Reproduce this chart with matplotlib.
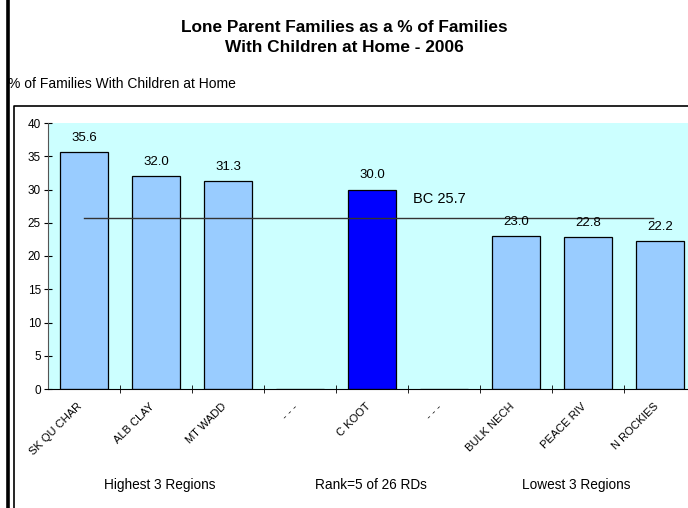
import numpy as np
import matplotlib.pyplot as plt
import matplotlib.transforms as mtransforms
from matplotlib.lines import Line2D

plt.rcParams['font.family'] = ['Liberation Sans', 'DejaVu Sans']

# data
regions = ["SK QU CHAR", "ALB CLAY", "MT WADD", "- - -", "C KOOT", "- - -",
           "BULK NECH", "PEACE RIV", "N ROCKIES"]
values = [35.6, 32.0, 31.3, np.nan, 30.0, np.nan, 23.0, 22.8, 22.2]
highlight = "C KOOT"
bc_value = 25.7
group_labels = ["Highest 3 Regions", "Rank=5 of 26 RDs", "Lowest 3 Regions"]

W, H = 688, 508
fig = plt.figure(figsize=(W / 100, H / 100), dpi=100)

# frame lines (thick outer left, thin inner box)
fig.add_artist(Line2D([7.5 / W, 7.5 / W], [0, 1], color="black", lw=2.6))
fig.add_artist(Line2D([14 / W, 14 / W, 1], [0, 1 - 106 / H, 1 - 106 / H],
                      color="black", lw=1.2))

fig.text(0.5, 1 - 27 / H, "Lone Parent Families as a % of Families",
         ha="center", va="center", fontsize=12.4, fontweight="bold")
fig.text(0.5, 1 - 48 / H, "With Children at Home - 2006",
         ha="center", va="center", fontsize=12.4, fontweight="bold")
fig.text(8 / W, 1 - 84 / H, "% of Families With Children at Home",
         ha="left", va="center", fontsize=10)

ax = fig.add_axes([48 / W, (H - 389) / H, 648 / W, 266 / H])
ax.set_facecolor("#CCFFFF")

x = np.arange(len(regions))
colors = ["#0000FF" if r == highlight else "#99CCFF" for r in regions]
ax.bar(x, np.nan_to_num(values), width=0.667, color=colors,
       edgecolor="black", linewidth=0.9)

for xi, v in zip(x, values):
    if not np.isnan(v):
        ax.annotate(f"{v:.1f}", (xi, v), xytext=(0, 6), textcoords="offset points",
                    ha="center", va="bottom", fontsize=9.5)

ax.plot([0, 7.9], [bc_value, bc_value], color="#333333", lw=1.0)
ax.text(4.57, bc_value + 2.9, f"BC {bc_value}", ha="left", va="center", fontsize=10.5)

ax.set_xlim(-0.5, len(regions) - 0.5)
ax.set_ylim(0, 40)
ax.set_yticks(np.arange(0, 41, 5))
ax.tick_params(axis="y", direction="inout", length=6, labelsize=8.5, pad=2)

ax.set_xticks(x)
ax.set_xticklabels(regions, rotation=45, ha="right", rotation_mode="anchor", fontsize=8)
ax.tick_params(axis="x", which="major", length=0, pad=9)
shift = mtransforms.ScaledTranslation(-7 / 100, 0, fig.dpi_scale_trans)
for lab in ax.get_xticklabels():
    lab.set_transform(lab.get_transform() + shift)
ax.set_xticks(x[:-1] + 0.5, minor=True)
ax.tick_params(axis="x", which="minor", direction="inout", length=6)

for s in ["top", "right"]:
    ax.spines[s].set_visible(False)
ax.spines["left"].set_color("#555555")
ax.spines["bottom"].set_color("black")

for gx, lab in zip([160, 371, 576], group_labels):
    fig.text(gx / W, 1 - 485 / H, lab, ha="center", va="center", fontsize=9.8)

fig.savefig("out.png", dpi=100)
